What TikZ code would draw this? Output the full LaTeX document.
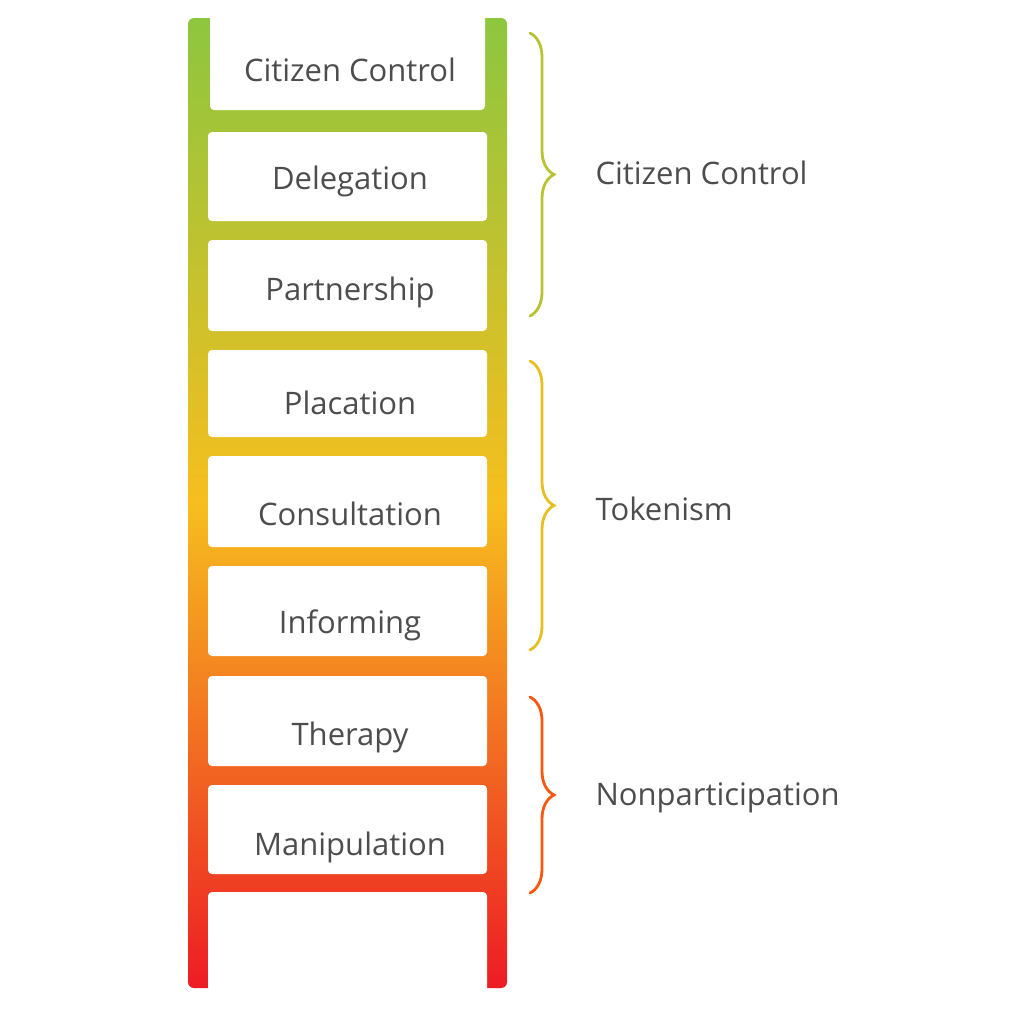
\documentclass[tikz,border=0pt]{standalone}
\usepackage{fontspec}
\setmainfont{Open Sans}
\usetikzlibrary{decorations.pathreplacing,positioning}
\definecolor{ctrlgreen}{HTML}{8DC63F}
\definecolor{tokyellow}{HTML}{F7BE1E}
\definecolor{nonred}{HTML}{ED1C24}
\definecolor{txtgrey}{HTML}{4D4D4D}
\tikzset{
  rungbox/.style={fill=white,rounded corners=4pt},
  ladtext/.style={text=txtgrey,font=\fontsize{31}{34}\selectfont},
  grpbrace/.style={line width=2.8pt,line cap=round,decorate,
    decoration={brace,amplitude=24pt,aspect=0.5}},
  grptext/.style={text=txtgrey,font=\fontsize{31}{34}\selectfont,anchor=west}
}
\begin{document}
\begin{tikzpicture}[x=1pt,y=-1pt]
\useasboundingbox (0,0) rectangle (1024,1015);
%ladder
\shade[top color=ctrlgreen,bottom color=nonred,middle color=tokyellow,rounded corners=6pt]
  (188,18) rectangle (507,988);
\fill[white,rounded corners=4pt] (210,12) rectangle (485,110);
\fill[white] (205,0) rectangle (487,18);
\foreach \ya/\yb in {132/221,240/331,350/437,456/547,566/656,676/766,785/874}
  \fill[rungbox] (208,\ya) rectangle (487,\yb);
\fill[rungbox] (208,892) rectangle (487,1000);
\fill[white] (205,990) rectangle (490,1015);
%rungs
\node[ladtext] (control) at (350,70) {Citizen Control};
\node[ladtext] (deleg) at (350,181) {Delegation};
\node[ladtext] (partner) at (350,292) {Partnership};
\node[ladtext] (placat) at (350,403) {Placation};
\node[ladtext] (consult) at (350,514) {Consultation};
\node[ladtext] (inform) at (350,625) {Informing};
\node[ladtext] (therapy) at (350,737) {Therapy};
\node[ladtext] (manip) at (350,847) {Manipulation};
%braces
\draw[grpbrace,color=ctrlgreen!60!tokyellow] (530,33) -- (530,316);
\draw[grpbrace,color=tokyellow!85!ctrlgreen] (530,361) -- (530,650);
\draw[grpbrace,color=orange!60!nonred] (530,697) -- (530,893);
\node[grptext] (grpcontrol) at (592,173) {Citizen Control};
\node[grptext] (grptoken) at (592,509) {Tokenism};
\node[grptext] (grpnon) at (592,798) {Nonparticipation};
\end{tikzpicture}
\end{document}
